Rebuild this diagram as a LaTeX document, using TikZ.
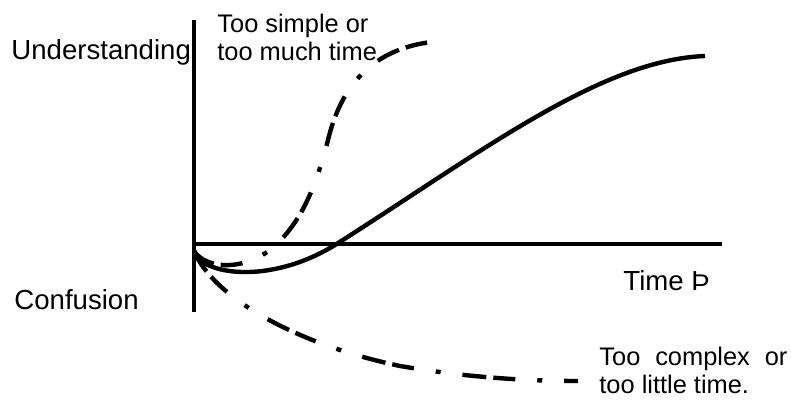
\documentclass[tikz,border=0pt]{standalone}
\usepackage{fontspec}
\setmainfont{Liberation Sans}

\begin{document}
\begin{tikzpicture}[
  x=0.5pt, y=-0.5pt,
  lbl/.style={font=\fontsize{13.8}{16}\selectfont, inner sep=0pt, anchor=base west},
  note/.style={font=\fontsize{12.7}{14}\selectfont, inner sep=0pt, align=left, anchor=north west},
  axis/.style={line width=2.2pt},
  solidcurve/.style={line width=2.2pt},
  dashdot/.style={line width=2.2pt, dash pattern=on 12pt off 3.5pt on 11pt off 11pt on 2.5pt off 11pt}
]
\useasboundingbox (0,0) rectangle (791,400);
% axes
\coordinate (ytop) at (194,20);
\coordinate (ybot) at (194,312);
\coordinate (orig) at (194,244);
\coordinate (xend) at (722,244);
\draw[axis] (ytop) -- (ybot);
\draw[axis] (orig) -- (xend);
% labels
\node[lbl] (under) at (11,60) {Understanding};
\node[lbl] (conf) at (14,309) {Confusion};
\node[lbl] (time) at (623,291) {Time Þ};
\node[note] (simple) at (217,14) {Too simple or\\too much time.};
\node[note] (complex) at (599,347) {\makebox[94pt][s]{Too complex or}\\too little time.};
% curves
\coordinate (start) at (194,251);
\draw[solidcurve] (start) .. controls (200,274) and (268,286) .. (335,245)
  .. controls (480,153) and (600,60) .. (705,56);
\draw[dashdot] (start) .. controls (205,268) and (240,272) .. (270,250)
  .. controls (300,225) and (315,190) .. (328,140)
  .. controls (340,90) and (370,45) .. (443,41);
\draw[dashdot] (start) .. controls (215,300) and (300,345) .. (400,366)
  .. controls (470,378) and (530,381) .. (578,381);
\end{tikzpicture}
\end{document}
